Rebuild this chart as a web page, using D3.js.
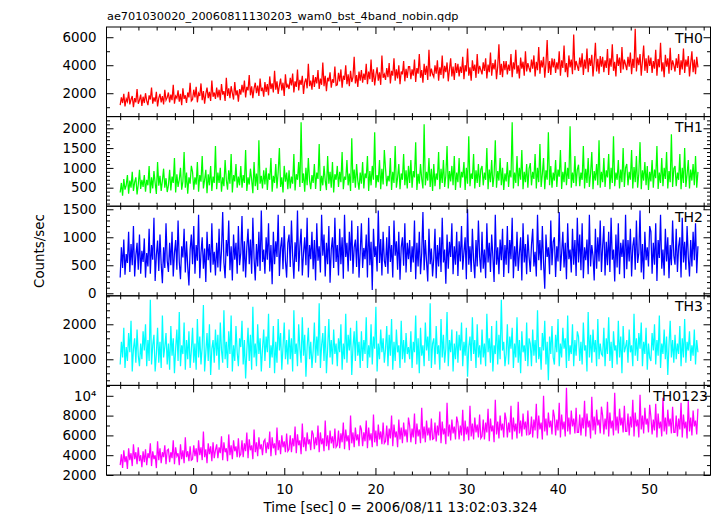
<!DOCTYPE html>
<html>
<head>
<meta charset="utf-8">
<script src="https://cdn.jsdelivr.net/npm/d3@7"></script>
<style>
  html, body { margin: 0; padding: 0; background: #fff; }
  svg { display: block; }
  text { font-family: "DejaVu Sans", "Liberation Sans", Arial, sans-serif; fill: #000; }
</style>
</head>
<body>
<svg id="chart" width="717" height="516"></svg>
<script>
// ---- data ----
const titleText = "ae701030020_20060811130203_wam0_bst_4band_nobin.qdp";
const xLabelText = "Time [sec] 0 = 2006/08/11 13:02:03.324";
const yLabelText = "Counts/sec";
const tStart = -8;
const binSize = 0.1323;
const seriesNames = ["TH0", "TH1", "TH2", "TH3", "TH0123"];

const th0 = [
1150,1700,1300,1950,1050,1600,1400,2100,1200,1550,1800,1000,1650,1350,2300,1250,1500,1900,1100,1750,
1300,2000,1450,1150,1850,1550,2400,1250,1700,1400,2100,1050,1650,1950,1350,1800,1200,2250,1500,1700,
2050,1350,1900,1500,2600,1250,1800,1650,2200,1400,1950,1150,2350,1600,1850,1300,2050,1700,2750,1450,
1550,2250,1700,2450,1350,2000,1800,2700,1500,2150,1250,1950,2400,1650,2100,1450,2900,1750,2050,1600,
2400,1700,2250,1500,2650,1900,2150,1450,3100,1800,2350,1650,2500,2000,1550,2800,1850,2200,1400,2300,
1900,2600,2050,2900,1700,2450,2200,3300,1850,2500,1650,2350,2750,2000,2550,1800,3050,2150,2400,1750,
2800,2100,2650,1850,3200,2300,2700,2050,3600,2250,2850,1950,2550,3050,2200,2750,1800,3350,2400,2600,
2300,3100,2550,3400,2050,2850,2450,3700,2200,2950,2600,3250,1950,2800,3050,2350,4100,2500,2900,2250,
3300,2450,3150,2700,3650,2300,3050,2600,4200,2500,3250,2150,3100,2850,3500,2400,3000,2750,3900,2550,
2600,3450,2850,3700,2400,3250,2950,4000,2650,3350,2500,3600,2800,3150,4600,2700,3300,2450,3550,2900,
3650,2750,3400,2950,4100,2650,3550,3000,4400,2800,3700,2550,3300,3850,2900,3500,2600,4700,3100,3350,
2950,3800,3150,4150,2700,3600,3250,4500,2900,3700,3050,4000,2650,3550,3350,4300,2850,3750,3100,3900,
3900,3000,3700,3250,4400,2800,3800,3400,4800,3100,3650,2750,4100,3300,3950,2950,5100,3200,3750,3350,
3150,4000,3400,4350,2900,3850,3300,4700,3050,3950,3500,4200,2850,3700,4500,3200,3900,2950,4150,3450,
4100,3200,3900,3450,4600,3000,4000,3550,5200,3250,3850,2900,4350,3600,4050,3100,4800,3400,3950,3650,
3350,4200,3600,4500,3050,4050,3500,4900,3250,4150,3700,4400,3000,3900,5500,3300,4100,3150,4300,3650,
4300,3350,4050,3600,4800,3150,4200,3700,5100,3400,4000,3050,4550,3750,4250,3250,5000,3550,4150,3800,
3500,4400,3750,4700,3200,4250,3650,5300,3400,4350,3850,4600,3100,4100,5800,3450,4300,3300,4500,3850,
4450,3450,4200,3700,5000,3250,4350,3800,5400,3500,4150,3150,4700,3850,4400,3350,6200,3650,4300,3950,
3600,4550,3850,4850,3300,4400,3750,5200,3500,4500,3950,4750,3200,4250,5600,3550,4450,3400,4650,3900,
4600,3500,4350,3800,5150,3300,4500,3900,5500,3600,4250,3200,4800,3950,4550,3450,5300,3700,4400,4050,
3650,4600,3900,4900,3350,4450,3800,6600,3550,4550,4000,4800,3250,4300,5400,3600,4500,3450,4700,3950,
4550,3450,4300,3750,5100,3250,4450,3850,5600,3550,4200,3150,4750,3900,4500,3400,5250,3650,4350,4000,
3550,4500,3800,4800,3300,4350,3700,5200,3450,4400,3900,4650,3200,4150,5000,3500,4400,3350,4600,3850
];
const th1 = [
380,620,300,720,450,560,820,350,680,500,900,420,640,760,330,580,950,470,700,520,
820,400,700,560,1050,360,760,480,920,620,340,1150,550,800,420,680,980,500,740,390,
560,950,430,780,620,1250,380,840,520,700,1000,450,660,1400,500,880,350,760,600,1050,
900,450,760,580,1150,400,820,650,1300,480,700,950,360,840,560,1050,420,780,620,1550,
460,880,620,1000,400,760,540,1200,700,450,940,600,1350,380,820,660,1100,500,780,560,
1050,500,820,620,1450,420,760,580,980,700,360,1150,540,860,440,1700,600,800,480,940,
580,1000,440,860,700,1250,400,800,620,1100,480,900,1500,520,760,380,1050,650,880,460,
940,480,780,600,1350,430,840,700,1150,520,2150,620,860,400,1000,560,1250,680,460,820,
620,1100,470,880,720,1600,420,800,560,1050,680,440,1300,600,900,500,1150,380,840,700,
1050,520,900,640,1400,460,780,700,1200,560,860,420,1750,620,960,500,1100,680,450,880,
600,1150,480,860,740,1300,420,920,560,1050,700,1900,500,820,640,1200,460,980,580,1450,
980,540,800,660,1250,440,900,620,1550,500,760,1100,460,860,700,1350,560,940,480,1050,
620,1200,500,920,760,1650,440,850,600,1100,720,480,2100,560,900,680,1250,520,980,420,
1100,540,860,700,1400,460,980,620,1200,520,800,1550,480,920,660,1050,560,1300,440,880,
640,1250,500,900,760,1150,440,1000,600,1800,540,860,720,1350,480,940,620,1100,520,960,
1050,560,880,700,1500,460,960,640,1200,520,820,1700,500,920,680,1250,560,1000,440,860,
660,1150,520,940,760,2150,480,880,620,1300,540,1000,700,1450,460,900,640,1100,500,980,
1120,560,900,720,1350,480,1000,640,1600,520,840,1250,460,940,700,1900,560,1050,500,880,
680,1200,520,960,780,1450,470,900,640,1150,560,1000,720,2050,500,880,620,1300,540,960,
1080,540,880,700,1550,480,980,620,1250,520,860,1400,460,920,680,1100,560,1700,500,900,
640,1250,520,940,760,1350,460,1000,620,1800,540,880,700,1200,480,960,640,1500,520,1000,
1100,560,900,700,1450,480,1020,640,1300,500,860,1650,460,940,680,1150,560,1050,440,900,
660,1200,500,960,740,1550,470,880,620,1250,540,1000,720,1400,480,920,640,1850,520,980,
1050,540,880,700,1350,460,1000,620,1500,520,840,1200,480,960,680,1100,560,1300,500,900
];
const th2 = [
280,820,450,960,330,700,540,1100,380,880,500,1200,300,680,900,420,1050,350,760,560,
980,280,720,480,1150,350,860,600,1350,220,680,940,400,1050,520,180,820,450,1250,580,
380,900,500,1100,300,720,950,420,1300,560,250,840,640,1150,370,930,480,140,780,1050,
520,1200,350,860,580,1400,270,720,1000,440,800,200,1100,590,880,370,1250,510,740,320,
900,460,1150,390,760,1450,550,270,950,660,1300,410,840,230,1050,600,900,350,1200,500,
720,1380,390,930,280,820,1150,520,960,350,1350,630,230,880,480,1100,400,1480,560,780,
350,1000,600,1250,390,860,160,1100,520,930,650,1400,310,810,1000,430,1200,580,280,900,
1050,470,1300,670,260,910,560,1480,390,840,1150,320,720,1000,500,1350,280,860,610,1100,
430,950,230,1250,580,840,370,1400,670,1050,300,900,520,1200,190,780,1000,450,1350,560,
860,320,1150,520,1000,260,1400,650,900,390,1100,580,1300,350,820,960,470,1200,280,730,
1250,450,810,610,1050,280,1350,500,920,60,1150,650,840,390,1480,540,970,320,1100,580,
470,1000,350,1200,560,860,280,1300,670,930,420,1100,240,820,1000,490,1250,370,900,610,
950,380,840,550,1300,250,900,480,1100,340,720,1450,410,950,570,210,1150,520,800,300,
630,1150,270,860,480,1000,380,1350,550,780,170,1050,440,920,650,1250,340,840,510,1100,
310,930,570,1200,420,740,1000,250,1500,510,840,380,1150,590,270,950,480,1300,660,370,
1100,440,780,270,1250,550,900,380,1050,650,200,1400,510,820,340,960,590,1150,290,860,
510,1200,360,950,610,1350,270,840,480,1100,400,720,1000,230,1250,550,880,340,1050,650,
380,860,1150,480,740,300,1400,590,950,410,1200,540,80,1050,650,820,340,1300,500,920,
1000,290,840,570,1450,400,720,1100,460,900,250,1250,610,780,370,1150,510,950,310,1350,
550,1050,410,1250,270,820,590,960,340,1400,480,860,670,230,1150,440,1000,570,1300,380,
840,1200,320,920,500,1100,380,1350,600,780,210,1050,460,1250,340,900,650,960,270,1400,
430,950,570,1150,300,840,1000,420,1300,540,720,1480,370,880,250,1100,590,820,480,1200,
1100,350,900,510,1250,220,950,630,1400,440,780,320,1150,570,1000,270,860,500,1300,670,
510,1150,380,840,1000,280,1350,550,920,420,1200,650,300,950,480,1100,590,1250,360,840
];
const th3 = [
850,1500,1050,1900,750,1350,950,1750,1200,2100,650,1300,1600,900,1850,1100,800,1450,1000,1800,
1250,2000,800,1550,950,2700,850,1400,1700,650,1150,1900,900,1500,750,2250,1050,1350,1750,850,
1450,700,1950,1100,1600,600,1300,1850,950,2350,800,1400,1150,2050,700,1550,1000,1800,750,1250,
1900,900,1450,700,2150,1050,1650,850,1350,2550,650,1200,1750,950,2000,550,1300,1550,900,1850,
1100,1700,700,2050,1250,900,2400,1000,1500,750,1800,1150,2250,650,1400,950,1950,1200,800,1600,
1350,2100,850,1550,450,1250,1900,950,1700,700,2500,1050,1450,800,2000,1150,1600,650,1300,1850,
950,1650,1200,2300,750,1400,1050,1950,600,1500,900,2150,1250,1750,700,1350,2050,1000,1550,850,
1850,1000,1600,650,2400,1150,1450,800,2000,1300,900,2200,1100,1700,500,1350,1900,1000,1500,750,
1250,2050,900,1650,1100,2600,750,1400,1750,950,1950,600,1300,2150,1050,1550,850,1850,1150,1450,
800,1600,1200,2000,700,1450,1000,2300,900,1700,1250,1900,550,1350,1800,950,2100,1100,1500,750,
1800,950,1550,1150,2200,750,1400,1050,2000,850,1650,1300,2500,650,1450,1000,1850,1200,1600,900,
1300,1950,800,1700,1100,2150,700,1500,950,1850,1200,1400,750,2100,1000,1550,900,1750,1150,1350,
1000,1800,750,1500,1200,2250,850,1600,600,1900,1100,1400,800,2050,1250,1650,950,2600,750,1450,
1600,850,1950,1150,1400,700,2150,1050,1700,900,1300,2350,800,1550,1200,1850,650,1450,1000,1800,
900,1700,1250,2050,800,1500,1100,1900,500,1350,1650,950,2200,1150,1550,750,2000,1050,1400,850,
1850,1050,1450,800,2300,1200,1600,900,1950,650,1400,1150,2100,850,1700,1000,2700,1250,1500,800,
1150,2000,850,1650,1300,1900,750,1450,1050,2200,900,1550,600,1800,1200,1400,950,2050,800,1600,
1450,800,1850,1100,1550,900,2400,1000,1350,700,1750,1250,2100,850,1500,400,1650,1150,1950,1050,
850,1700,1200,2150,800,1450,1050,1900,1300,1600,750,2250,950,1400,1150,2000,800,1550,1100,1800,
1650,950,1500,850,2050,1250,1400,650,2350,1050,1700,900,1850,1200,1550,800,2150,1000,1450,1150,
1100,1900,800,1600,1150,2200,950,1500,750,1800,1250,1400,850,2100,1050,1650,600,1950,1200,1350,
1550,900,1850,1200,1400,800,2300,1100,1600,950,1750,1300,2050,800,1500,1150,1900,700,1450,1050,
950,1750,1250,2000,850,1550,1100,2250,750,1450,1150,1850,1000,1650,550,1400,2100,1050,1550,900,
1700,1000,1450,1150,1950,800,1600,1050,2150,900,1500,1250,1800,950,1400,1100,1850,850,1550,1200
];
const th0123 = [
3000,4100,2700,4500,3300,3900,2600,4700,3500,4200,2900,5100,3600,4300,3100,4800,3400,4000,2800,4400,
3300,4600,3000,4200,3700,5200,2900,4400,3600,4000,2700,5400,3500,4700,3200,4300,3800,5000,3100,4500,
4600,3300,4300,3700,5500,3100,4800,3900,4200,3000,5100,3600,4500,3200,5800,3800,4400,3400,4900,3500,
3600,5000,3900,4700,3300,5500,4000,4800,3500,6400,3800,4600,3200,5200,4100,4900,3400,5300,3700,4500,
5100,3700,4800,4200,5900,3500,5300,4300,4700,3400,6100,4000,5000,3600,5500,4400,4900,3800,5700,3900,
4100,5500,3800,5200,4400,6300,3700,5600,4500,5000,3600,6600,4300,5300,3900,5800,4600,5100,4000,5400,
5600,4200,5300,4600,6400,3900,5800,4700,5200,4000,6800,4500,5500,4100,6000,4800,5400,4300,6200,4400,
4600,6000,4300,5700,4900,6900,4200,6100,5000,5500,4100,7200,4800,5800,4400,6300,5100,5600,4500,6500,
6100,4600,5800,5000,7000,4300,6300,5100,5700,4400,7500,4900,6000,4500,6500,5200,5900,4700,6700,4800,
5000,6500,4700,6200,5300,7300,4600,6600,5400,6000,4500,8000,5200,6300,4800,6800,5500,6100,4900,7000,
6600,4900,6300,5400,7500,4700,6800,5500,6200,4800,8100,5300,6500,4900,7100,5600,6400,5100,7300,5200,
5400,7000,5000,6700,5700,8000,4900,7100,5800,6400,4800,7600,5600,6800,5200,7300,5900,6600,5300,7800,
7000,5300,6700,5800,8200,5100,7200,5900,6600,5200,8800,5700,6900,5300,7500,6000,6800,5500,7700,5600,
5700,7300,5400,7000,6000,8400,5200,7400,6100,6700,5100,9300,5900,7100,5500,7600,6200,6900,5600,7900,
7300,5600,7000,6000,8600,5400,7500,6100,6900,5500,9000,5900,7200,5600,7800,6300,7100,5800,8100,5700,
5900,7600,5600,7300,6300,8700,5400,7700,6400,7000,5300,9600,6100,7400,5700,8000,6500,7200,5800,8300,
7600,5800,7300,6300,9000,5600,7800,6400,7200,5700,9400,6200,7500,5900,8200,6600,7400,6000,8500,6100,
6200,7900,5800,7600,6500,9200,5700,8000,6600,7300,5600,10000,6400,7700,6000,8300,6800,7500,6100,8600,
7900,6000,7600,6500,9300,5800,8100,6600,7400,5900,10800,6400,7800,6100,8500,6900,7700,6200,8800,6300,
6300,8100,6000,7800,6700,9500,5900,8200,6800,7500,5700,9900,6500,7900,6100,8600,7000,7600,6200,8900,
8000,6100,7700,6600,9400,5900,8300,6700,7500,6000,10300,6500,7900,6200,8700,7000,7800,6300,9000,6400,
6400,8200,6000,7900,6800,9600,5900,8300,6900,7600,5800,10100,6600,8000,6200,8800,7100,7700,6300,9100,
7900,6100,7600,6500,9200,5800,8200,6700,7400,5900,9800,6400,7800,6100,8600,6900,7700,6200,8900,6300,
6300,8000,5900,7700,6600,9300,5800,8100,6700,7400,5700,9500,6400,7800,6000,8500,6900,7500,6100,8700
];

const xMajorTicks = [0, 10, 20, 30, 40, 50];
const yMajorTicks = [
  [2000, 4000, 6000],
  [500, 1000, 1500, 2000],
  [0, 500, 1000, 1500],
  [1000, 2000],
  [2000, 4000, 6000, 8000, 10000]
];
const yTickLabels = [
  ["2000", "4000", "6000"],
  ["500", "1000", "1500", "2000"],
  ["0", "500", "1000", "1500"],
  ["1000", "2000"],
  ["2000", "4000", "6000", "8000", "10⁴"]
];

// ---- layout / options ----
const seriesValues = [th0, th1, th2, th3, th0123];
const colors = ["#ff0000", "#00ff00", "#0000ff", "#00ffff", "#ff00ff"];
const yDomains = [[330, 6730], [33, 2295], [-45, 1555], [254, 2814], [2000, 11050]];
const yMinorSteps = [1000, 100, 100, 200, 1000];

const svg = d3.select("#chart");
const plotLeft = 106.5, plotRight = 710.5, plotTop = 27, plotBottom = 475;
const nP = 5;
const pH = (plotBottom - plotTop) / nP;
const majorLen = 7, minorLen = 3.5;
const fontFam = "DejaVu Sans, Liberation Sans, Arial, sans-serif";

const x = d3.scaleLinear().domain([-9.5, 56.75]).range([plotLeft, plotRight]);
const xMinor = d3.range(-8, 57, 2).filter(v => v % 10 !== 0);

svg.append("text")
  .attr("x", 107).attr("y", 20)
  .attr("font-size", 11.3)
  .text(titleText);

const defs = svg.append("defs");

for (let p = 0; p < nP; p++) {
  const y0 = plotTop + p * pH, y1 = y0 + pH;
  const y = d3.scaleLinear().domain(yDomains[p]).range([y1, y0]);
  const g = svg.append("g");

  defs.append("clipPath").attr("id", "clip" + p)
    .append("rect").attr("x", plotLeft).attr("y", y0).attr("width", plotRight - plotLeft).attr("height", pH);

  const line = d3.line()
    .x((d, i) => x(tStart + i * binSize))
    .y(d => y(d));

  g.append("path")
    .datum(seriesValues[p])
    .attr("clip-path", `url(#clip${p})`)
    .attr("fill", "none")
    .attr("stroke", colors[p])
    .attr("stroke-width", 1.25)
    .attr("d", line);

  const [d0, d1] = yDomains[p];
  const st = yMinorSteps[p];
  const yMinor = d3.range(Math.ceil(d0 / st) * st, d1, st).filter(v => !yMajorTicks[p].includes(v));

  const addAxis = (axis, tx, ty) => {
    const a = g.append("g").attr("transform", `translate(${tx},${ty})`).call(axis);
    a.select(".domain").remove();
    a.selectAll("line").attr("stroke", "#000");
    return a;
  };

  const la = addAxis(d3.axisLeft(y).tickValues(yMajorTicks[p]).tickSize(-majorLen).tickPadding(10)
      .tickFormat((d, i) => yTickLabels[p][i]), plotLeft, 0);
  la.selectAll("text").attr("font-size", 13.4).attr("font-family", fontFam).attr("fill", "#000");
  addAxis(d3.axisLeft(y).tickValues(yMinor).tickSize(-minorLen).tickFormat(""), plotLeft, 0);
  addAxis(d3.axisRight(y).tickValues(yMajorTicks[p]).tickSize(-majorLen).tickFormat(""), plotRight, 0);
  addAxis(d3.axisRight(y).tickValues(yMinor).tickSize(-minorLen).tickFormat(""), plotRight, 0);

  addAxis(d3.axisTop(x).tickValues(xMajorTicks).tickSize(-majorLen).tickFormat(""), 0, y0);
  addAxis(d3.axisTop(x).tickValues(xMinor).tickSize(-minorLen).tickFormat(""), 0, y0);
  const ba = addAxis(d3.axisBottom(x).tickValues(xMajorTicks).tickSize(-majorLen).tickPadding(9.5)
      .tickFormat(p === nP - 1 ? d3.format("d") : ""), 0, y1);
  ba.selectAll("text").attr("font-size", 13.4).attr("font-family", fontFam).attr("fill", "#000");
  addAxis(d3.axisBottom(x).tickValues(xMinor).tickSize(-minorLen).tickFormat(""), 0, y1);

  g.append("rect")
    .attr("x", plotLeft).attr("y", y0).attr("width", plotRight - plotLeft).attr("height", pH)
    .attr("fill", "none").attr("stroke", "#000").attr("stroke-width", 1);

  g.append("text")
    .attr("x", p === nP - 1 ? 708 : 703)
    .attr("y", y0 + 15.5)
    .attr("text-anchor", "end")
    .attr("font-size", 14)
    .text(seriesNames[p]);
}

svg.append("text")
  .attr("x", (plotLeft + plotRight) / 2 - 8).attr("y", 512)
  .attr("text-anchor", "middle")
  .attr("font-size", 13.4)
  .text(xLabelText);

svg.append("text")
  .attr("transform", `translate(44,${(plotTop + plotBottom) / 2}) rotate(-90)`)
  .attr("text-anchor", "middle")
  .attr("font-size", 13.4)
  .text(yLabelText);
</script>
</body>
</html>
